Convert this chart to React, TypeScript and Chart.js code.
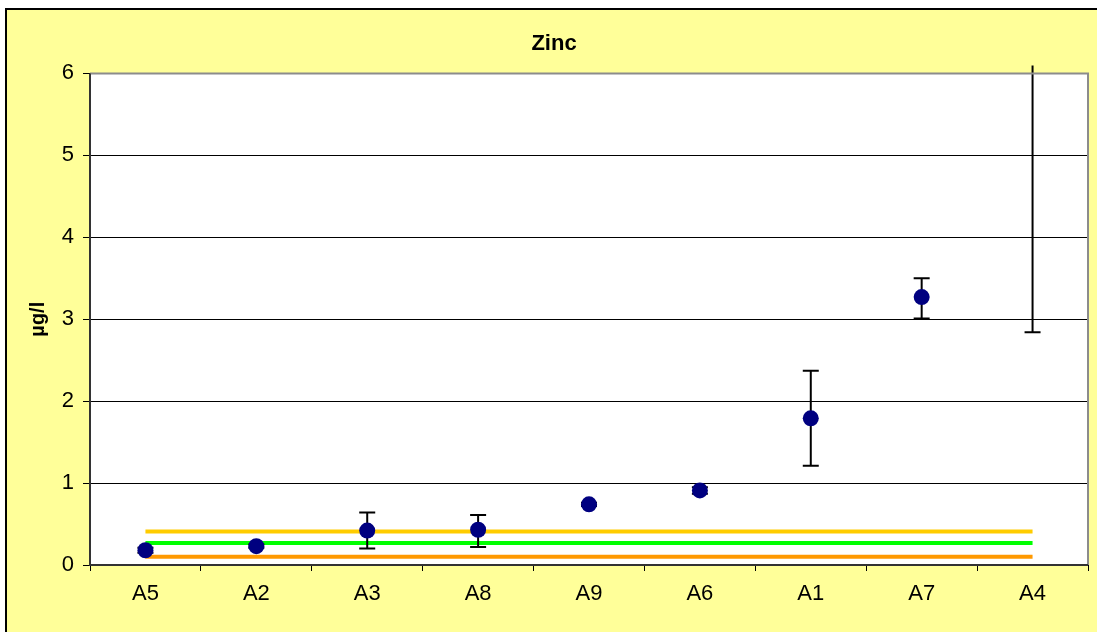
import React, { useEffect, useRef } from "react";
import { Chart, registerables } from "chart.js";

Chart.register(...registerables);

const categories = ["A5", "A2", "A3", "A8", "A9", "A6", "A1", "A7", "A4"];
const means = [0.18, 0.23, 0.42, 0.43, 0.74, 0.91, 1.79, 3.27, 6.5];
const lows = [0.15, 0.21, 0.2, 0.22, 0.72, 0.87, 1.21, 3.01, 2.84];
const highs = [0.21, 0.25, 0.64, 0.61, 0.76, 0.95, 2.37, 3.5, 10.2];
const yellowLimit = [0.41, 0.41, 0.41, 0.41, 0.41, 0.41, 0.41, 0.41, 0.41];
const greenLimit = [0.27, 0.27, 0.27, 0.27, 0.27, 0.27, 0.27, 0.27, 0.27];
const orangeLimit = [0.1, 0.1, 0.1, 0.1, 0.1, 0.1, 0.1, 0.1, 0.1];
const yTicks = [0, 1, 2, 3, 4, 5, 6];

const W = 1097;
const H = 632;

const backgroundPlugin = {
  id: "bgFrame",
  beforeDraw(chart: any) {
    const { ctx, chartArea } = chart;
    ctx.save();
    ctx.fillStyle = "#ffffff";
    ctx.fillRect(0, 0, W, H);
    ctx.fillStyle = "#FFFF99";
    ctx.fillRect(6, 9, W - 6, H - 9);
    ctx.strokeStyle = "#000000";
    ctx.lineWidth = 2;
    ctx.beginPath();
    ctx.moveTo(6, H);
    ctx.lineTo(6, 9);
    ctx.lineTo(W, 9);
    ctx.stroke();
    ctx.fillStyle = "#ffffff";
    ctx.fillRect(chartArea.left, chartArea.top, chartArea.right - chartArea.left, chartArea.bottom - chartArea.top);
    ctx.restore();
  },
  afterDraw(chart: any) {
    const { ctx, chartArea } = chart;
    ctx.save();
    ctx.lineWidth = 2;
    ctx.strokeStyle = "#8c8c8c";
    ctx.beginPath();
    ctx.moveTo(chartArea.left, chartArea.top);
    ctx.lineTo(chartArea.right, chartArea.top);
    ctx.lineTo(chartArea.right, chartArea.bottom);
    ctx.stroke();
    ctx.strokeStyle = "#333333";
    ctx.beginPath();
    ctx.moveTo(chartArea.left, chartArea.top);
    ctx.lineTo(chartArea.left, chartArea.bottom);
    ctx.lineTo(chartArea.right, chartArea.bottom);
    ctx.stroke();
    ctx.restore();
  },
};

const errorBarPlugin = {
  id: "errorBars",
  beforeDatasetDraw(chart: any, args: any) {
    if (args.index !== 0) return;
    const { ctx, chartArea, scales } = chart;
    const xs = scales.x;
    const ys = scales.y;
    ctx.save();
    ctx.beginPath();
    ctx.rect(chartArea.left, chartArea.top - 8, chartArea.right - chartArea.left, chartArea.bottom - chartArea.top + 8);
    ctx.clip();
    ctx.strokeStyle = "#000000";
    ctx.lineWidth = 2;
    for (let i = 0; i < categories.length; i++) {
      const x = xs.getPixelForValue(i);
      const yl = ys.getPixelForValue(lows[i]);
      const yh = ys.getPixelForValue(highs[i]);
      ctx.beginPath();
      ctx.moveTo(x, yl);
      ctx.lineTo(x, yh);
      ctx.moveTo(x - 8, yl);
      ctx.lineTo(x + 8, yl);
      ctx.moveTo(x - 8, yh);
      ctx.lineTo(x + 8, yh);
      ctx.stroke();
    }
    ctx.restore();
  },
};

export default function App() {
  const ref = useRef<HTMLCanvasElement | null>(null);
  useEffect(() => {
    document.body.style.margin = "0";
    const canvas = ref.current;
    if (!canvas) return;
    Chart.defaults.font.family = "Arial, 'Liberation Sans', sans-serif";
    const chart = new Chart(canvas, {
      type: "line",
      data: {
        labels: categories,
        datasets: [
          {
            label: "Zinc",
            data: means,
            showLine: false,
            pointRadius: 8,
            pointHoverRadius: 8,
            pointBackgroundColor: "#000080",
            pointBorderColor: "#000080",
            pointBorderWidth: 0,
            order: 0,
          },
          {
            label: "yellow",
            data: yellowLimit,
            borderColor: "#FFCC00",
            borderWidth: 4,
            pointRadius: 0,
            order: 1,
          },
          {
            label: "green",
            data: greenLimit,
            borderColor: "#00FF00",
            borderWidth: 4,
            pointRadius: 0,
            order: 1,
          },
          {
            label: "orange",
            data: orangeLimit,
            borderColor: "#FF9900",
            borderWidth: 4,
            pointRadius: 0,
            order: 1,
          },
        ],
      },
      options: {
        responsive: false,
        animation: false,
        layout: { padding: { left: 20, right: 9, top: 0, bottom: 0 } },
        plugins: {
          legend: { display: false },
          tooltip: { enabled: false },
          title: {
            display: true,
            text: "Zinc",
            color: "#000000",
            font: { size: 22, weight: "bold" },
            padding: { top: 31, bottom: 16 },
          },
        },
        scales: {
          x: {
            offset: true,
            grid: {
              offset: true,
              drawOnChartArea: false,
              tickLength: 6,
              tickColor: "#000000",
              tickWidth: 1,
            },
            border: { display: false },
            ticks: { color: "#000000", font: { size: 22 }, padding: 10, maxRotation: 0 },
            afterFit: (s: any) => {
              s.height = 67;
            },
          },
          y: {
            min: 0,
            max: 6,
            afterBuildTicks: (s: any) => {
              s.ticks = yTicks.map((v) => ({ value: v }));
            },
            grid: {
              color: (c: any) => (c.tick && (c.tick.value === 0 || c.tick.value === 6) ? "rgba(0,0,0,0)" : "#000000"),
              lineWidth: 1,
              tickLength: 7,
              tickColor: "#000000",
            },
            border: { display: false },
            ticks: { color: "#000000", font: { size: 22 }, padding: 9 },
            title: {
              display: true,
              text: "µg/l",
              color: "#000000",
              font: { size: 20, weight: "bold" },
              padding: { top: 6, bottom: 0 },
            },
            afterFit: (s: any) => {
              s.width = 70;
            },
          },
        },
      },
      plugins: [backgroundPlugin, errorBarPlugin],
    });
    return () => chart.destroy();
  }, []);
  return (
    <div style={{ width: W, height: H }}>
      <canvas ref={ref} width={W} height={H} style={{ display: "block" }} />
    </div>
  );
}
